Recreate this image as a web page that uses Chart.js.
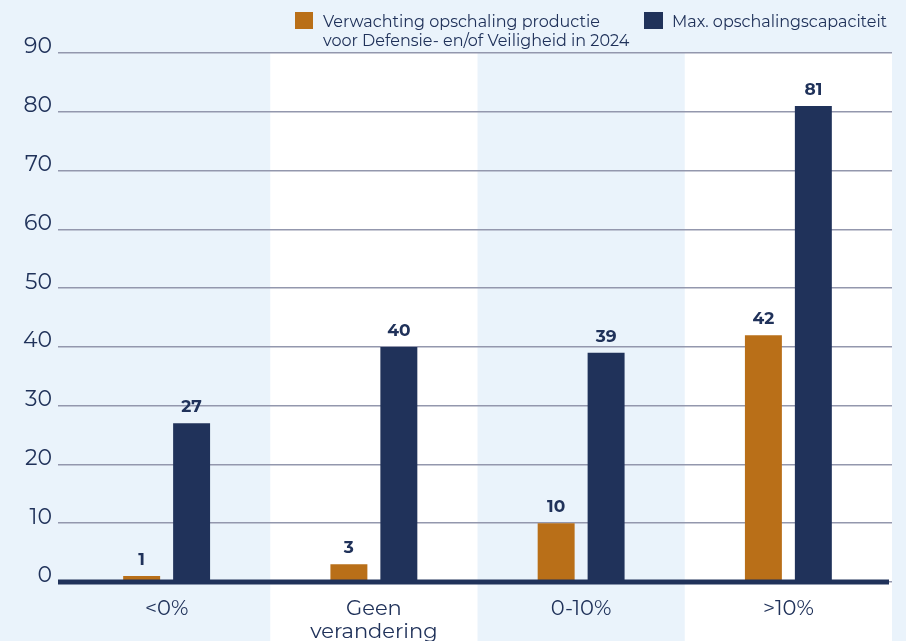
<!DOCTYPE html>
<html>
<head>
<meta charset="utf-8">
<script src="https://cdn.jsdelivr.net/npm/chart.js@4"></script>
<style>
  html, body { margin: 0; padding: 0; background: #eaf3fb; }
  #wrap { width: 906px; height: 641px; }
</style>
</head>
<body>
<div id="wrap"><canvas id="chart" width="906" height="641"></canvas></div>
<script>
// Data
const categories = ['<0%', ['Geen', 'verandering'], '0-10%', '>10%'];
const expectedValues = [1, 3, 10, 42];
const maxCapacityValues = [27, 40, 39, 81];
const seriesLabels = [
    ['Verwachting opschaling productie', 'voor Defensie- en/of Veiligheid in 2024'],
    ['Max. opschalingscapaciteit']
];

const ORANGE = '#b96f18';
const NAVY = '#20325a';
const FONT = "'Montserrat', 'Open Sans', sans-serif";

// Background + alternating white category bands
const bandsPlugin = {
    id: 'bands',
    beforeDraw(chart) {
        const { ctx, chartArea, scales } = chart;
        ctx.save();
        ctx.fillStyle = '#eaf3fb';
        ctx.fillRect(0, 0, chart.width, chart.height);
        const half = scales.x.width / categories.length / 2;
        ctx.fillStyle = '#ffffff';
        [1, 3].forEach(i => {
            const cx = scales.x.getPixelForValue(i);
            ctx.fillRect(cx - half, chartArea.top, half * 2, chart.height - chartArea.top);
        });
        ctx.restore();
    }
};

// Thick baseline, value labels on top of bars
const overlayPlugin = {
    id: 'overlay',
    afterDatasetsDraw(chart) {
        const { ctx, scales } = chart;
        ctx.save();
        const y0 = scales.y.getPixelForValue(0);
        ctx.strokeStyle = NAVY;
        ctx.lineWidth = 5;
        ctx.beginPath();
        ctx.moveTo(scales.x.left - 5, y0);
        ctx.lineTo(scales.x.right - 3, y0);
        ctx.stroke();

        ctx.fillStyle = NAVY;
        ctx.font = `bold 17px ${FONT}`;
        ctx.textAlign = 'center';
        ctx.textBaseline = 'middle';
        chart.data.datasets.forEach((ds, di) => {
            chart.getDatasetMeta(di).data.forEach((bar, i) => {
                ctx.fillText(String(ds.data[i]), bar.x, bar.y - 16);
            });
        });
        ctx.restore();
    }
};

// Custom legend (multi-line label)
const legendPlugin = {
    id: 'customLegend',
    afterDraw(chart) {
        const { ctx } = chart;
        const items = [
            { box: [295, 12, 18, 17], textX: 323, color: ORANGE, lines: seriesLabels[0] },
            { box: [644, 12, 19, 17], textX: 672, color: NAVY, lines: seriesLabels[1] }
        ];
        ctx.save();
        ctx.font = `16px ${FONT}`;
        ctx.textAlign = 'left';
        ctx.textBaseline = 'middle';
        items.forEach(item => {
            ctx.fillStyle = item.color;
            ctx.fillRect(...item.box);
            ctx.fillStyle = NAVY;
            item.lines.forEach((line, li) => {
                ctx.fillText(line, item.textX, 22 + li * 19);
            });
        });
        ctx.restore();
    }
};

new Chart(document.getElementById('chart'), {
    type: 'bar',
    data: {
        labels: categories,
        datasets: [
            {
                label: seriesLabels[0].join(' '),
                data: expectedValues,
                backgroundColor: ORANGE,
                barPercentage: 0.74,
                categoryPercentage: 0.482
            },
            {
                label: seriesLabels[1].join(' '),
                data: maxCapacityValues,
                backgroundColor: NAVY,
                barPercentage: 0.74,
                categoryPercentage: 0.482
            }
        ]
    },
    options: {
        responsive: false,
        animation: false,
        layout: { padding: { top: 53, right: 14, left: 0, bottom: 0 } },
        plugins: {
            legend: { display: false },
            tooltip: { enabled: false }
        },
        scales: {
            x: {
                grid: { display: false },
                border: { display: false },
                ticks: {
                    color: NAVY,
                    font: { family: FONT, size: 21, lineHeight: 1.1 },
                    padding: 7,
                    maxRotation: 0
                },
                afterFit(scale) { scale.height = 59; }
            },
            y: {
                min: 0,
                max: 90,
                border: { display: false },
                grid: {
                    color: '#9397ad',
                    lineWidth: 1.5,
                    drawTicks: true,
                    tickLength: 5
                },
                ticks: {
                    stepSize: 10,
                    color: NAVY,
                    font: { family: FONT, size: 22 },
                    padding: 6,
                    labelOffset: -6
                },
                afterFit(scale) { scale.width = 63; }
            }
        }
    },
    plugins: [bandsPlugin, overlayPlugin, legendPlugin]
});
</script>
</body>
</html>
